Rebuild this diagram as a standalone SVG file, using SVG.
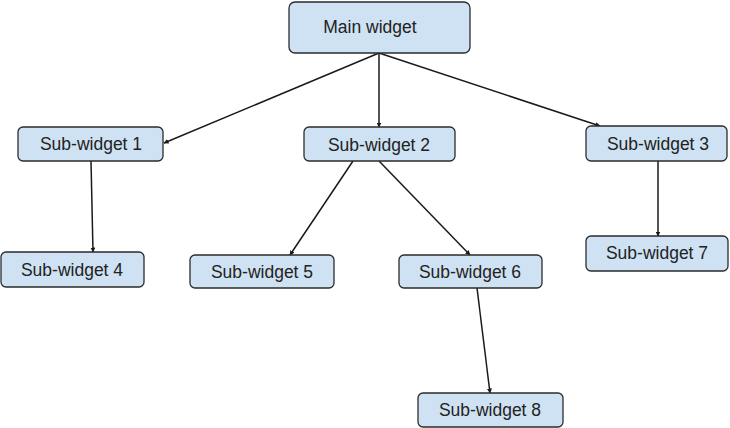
<svg xmlns="http://www.w3.org/2000/svg" width="730" height="428" viewBox="0 0 730 428">
<style>
.box{fill:#cfe2f3;stroke:#2b2b2b;stroke-width:1.3}
.lbl{font-family:"Liberation Sans",Arial,sans-serif;font-size:17.5px;fill:#222;text-anchor:middle}
.edge{stroke:#1a1a1a;stroke-width:1.5;fill:none;marker-end:url(#ah)}
</style>
<defs>
<marker id="ah" viewBox="0 0 10 10" refX="9" refY="5" markerWidth="5" markerHeight="5" orient="auto" markerUnits="userSpaceOnUse">
<path d="M0,0 L10,5 L0,10 z" fill="#1a1a1a"/>
</marker>
</defs>
<rect width="730" height="428" fill="#ffffff"/>
<g id="connectors">
<line class="edge" x1="379" y1="53" x2="164" y2="143"/>
<line class="edge" x1="379" y1="53" x2="379" y2="127"/>
<line class="edge" x1="379" y1="53" x2="600" y2="126"/>
<line class="edge" x1="91" y1="161" x2="93" y2="252"/>
<line class="edge" x1="353" y1="161" x2="290" y2="255"/>
<line class="edge" x1="379" y1="161" x2="470" y2="255"/>
<line class="edge" x1="658" y1="161" x2="658" y2="236"/>
<line class="edge" x1="477" y1="288" x2="490" y2="393"/>
</g>
<g id="main">
<rect class="box" x="289" y="2" width="181" height="51" rx="6"/>
<text class="lbl" x="370" y="33">Main widget</text>
</g>
<g id="sub1">
<rect class="box" x="18" y="127" width="145" height="34" rx="5"/>
<text class="lbl" x="91" y="150">Sub-widget 1</text>
</g>
<g id="sub2">
<rect class="box" x="304" y="127" width="151" height="34" rx="5"/>
<text class="lbl" x="379" y="151">Sub-widget 2</text>
</g>
<g id="sub3">
<rect class="box" x="586" y="126" width="141" height="35" rx="5"/>
<text class="lbl" x="658" y="150">Sub-widget 3</text>
</g>
<g id="sub4">
<rect class="box" x="1" y="252" width="143" height="35" rx="5"/>
<text class="lbl" x="72" y="276">Sub-widget 4</text>
</g>
<g id="sub5">
<rect class="box" x="190" y="255" width="144" height="33" rx="5"/>
<text class="lbl" x="262" y="278">Sub-widget 5</text>
</g>
<g id="sub6">
<rect class="box" x="399" y="255" width="143" height="33" rx="5"/>
<text class="lbl" x="470" y="278">Sub-widget 6</text>
</g>
<g id="sub7">
<rect class="box" x="586" y="236" width="142" height="35" rx="5"/>
<text class="lbl" x="657" y="259">Sub-widget 7</text>
</g>
<g id="sub8">
<rect class="box" x="418" y="393" width="145" height="34" rx="5"/>
<text class="lbl" x="490" y="416">Sub-widget 8</text>
</g>
</svg>
